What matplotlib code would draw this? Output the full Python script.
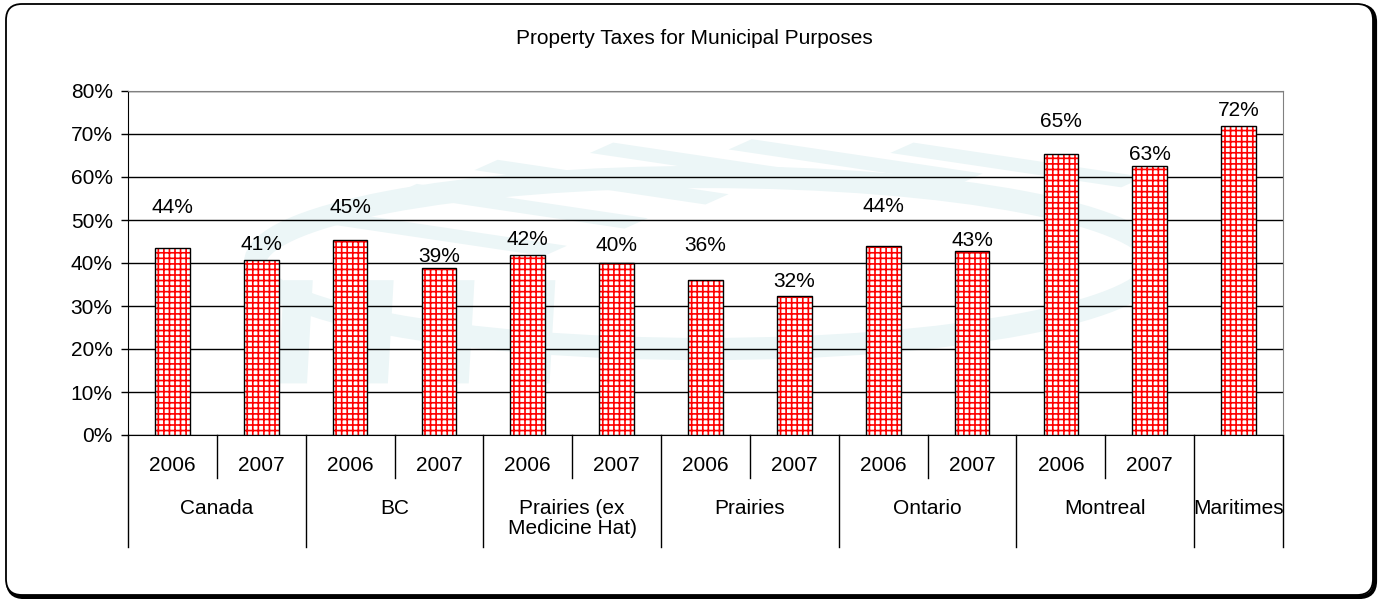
import matplotlib
matplotlib.use("Agg")
import matplotlib.pyplot as plt
from matplotlib.patches import FancyBboxPatch, Ellipse, Polygon
from matplotlib.ticker import PercentFormatter

# data
groups = ["Canada", "BC", "Prairies (ex\nMedicine Hat)", "Prairies", "Ontario", "Montreal", "Maritimes"]
years = ["2006", "2007"]
group_sizes = [2, 2, 2, 2, 2, 2, 1]
values = [43.6, 40.8, 45.3, 38.8, 41.9, 40.1, 36.0, 32.3, 43.9, 42.9, 65.4, 62.5, 71.8]
labels = ["44%", "41%", "45%", "39%", "42%", "40%", "36%", "32%", "44%", "43%", "65%", "63%", "72%"]

# label lift above bar top (pixels), as placed in the original
label_lift = [40, 15, 33, 12, 15, 17, 35, 15, 40, 10, 32, 12, 16]

plt.rcParams["font.family"] = ["Liberation Sans", "DejaVu Sans"]
plt.rcParams["hatch.linewidth"] = 1.2
plt.rcParams["hatch.color"] = "red"

fig = plt.figure(figsize=(13.8, 5.99), dpi=100)

# rounded outer frame with shadow (pixel coords)
shadow = FancyBboxPatch((8, 2), 1367, 591, boxstyle="round,pad=0,rounding_size=16",
                        transform=None, facecolor="none", edgecolor="black", linewidth=3, zorder=-6)
frame = FancyBboxPatch((6, 4), 1367, 591, boxstyle="round,pad=0,rounding_size=16",
                       transform=None, facecolor="white", edgecolor="black", linewidth=1.3, zorder=-5)
fig.add_artist(shadow)
fig.add_artist(frame)

ax = fig.add_axes([128 / 1380, 1 - 435 / 599, 1155 / 1380, 344 / 599])
ax.set_facecolor("none")

# faint watermark in the background
wm = "#ecf6f7"
ax.add_patch(Ellipse((0.50, 0.50), 0.78, 0.50, transform=ax.transAxes, facecolor="none",
                     edgecolor=wm, linewidth=16, zorder=0))
for x0, y0 in [(0.16, 0.62), (0.23, 0.70), (0.30, 0.77), (0.40, 0.82), (0.52, 0.83), (0.66, 0.82)]:
    ax.add_patch(Polygon([(x0, y0), (x0 + 0.20, y0 - 0.10), (x0 + 0.22, y0 - 0.07), (x0 + 0.02, y0 + 0.03)],
                         closed=True, transform=ax.transAxes, facecolor=wm, edgecolor="none", zorder=0))
for x0 in [0.13, 0.20, 0.27, 0.34]:
    ax.add_patch(Polygon([(x0, 0.15), (x0 + 0.025, 0.15), (x0 + 0.03, 0.45), (x0 + 0.005, 0.45)],
                         closed=True, transform=ax.transAxes, facecolor=wm, edgecolor="none", zorder=0))

x = list(range(len(values)))
ax.bar(x, values, width=0.39, color="white", edgecolor="red", hatch="+++", linewidth=0, zorder=3)
ax.bar(x, values, width=0.39, fill=False, edgecolor="black", linewidth=1.0, zorder=4)

for xi, v, lab, lift in zip(x, values, labels, label_lift):
    ax.annotate(lab, (xi, v), xytext=(0, lift), textcoords="offset pixels",
                ha="center", va="center", fontsize=15, zorder=5)

ax.set_xlim(-0.5, len(values) - 0.5)
ax.set_ylim(0, 80)
ax.set_yticks(range(0, 81, 10))
ax.yaxis.set_major_formatter(PercentFormatter(decimals=0))
ax.tick_params(axis="y", labelsize=15, length=5, width=1, direction="out", pad=6)
ax.set_xticks([])
ax.grid(axis="y", color="black", linewidth=1, zorder=1)
ax.set_axisbelow(True)

for side in ["top", "right"]:
    ax.spines[side].set_color("#808080")
ax.spines["left"].set_color("black")
ax.spines["bottom"].set_color("black")

fig.text(694 / 1380, 1 - 38 / 599, "Property Taxes for Municipal Purposes",
         ha="center", va="center", fontsize=15)

# two-level category axis
trans = ax.get_xaxis_transform()
pos = 0
bounds = [-0.5]
for g, n in zip(groups, group_sizes):
    if n > 1:
        for k in range(n):
            ax.text(pos + k, -0.09, years[k], transform=trans, ha="center", va="center", fontsize=15)
        for k in range(1, n):
            ax.plot([pos + k - 0.5] * 2, [0, -0.125], transform=trans, color="black",
                    linewidth=1, clip_on=False)
    center = pos + (n - 1) / 2
    ax.text(center, -0.186, g, transform=trans, ha="center", va="top", fontsize=15, linespacing=1.1)
    pos += n
    bounds.append(pos - 0.5)

for b in bounds:
    ax.plot([b, b], [0, -0.326], transform=trans, color="black", linewidth=1, clip_on=False)

fig.savefig("out.png", dpi=100)
plt.close()
